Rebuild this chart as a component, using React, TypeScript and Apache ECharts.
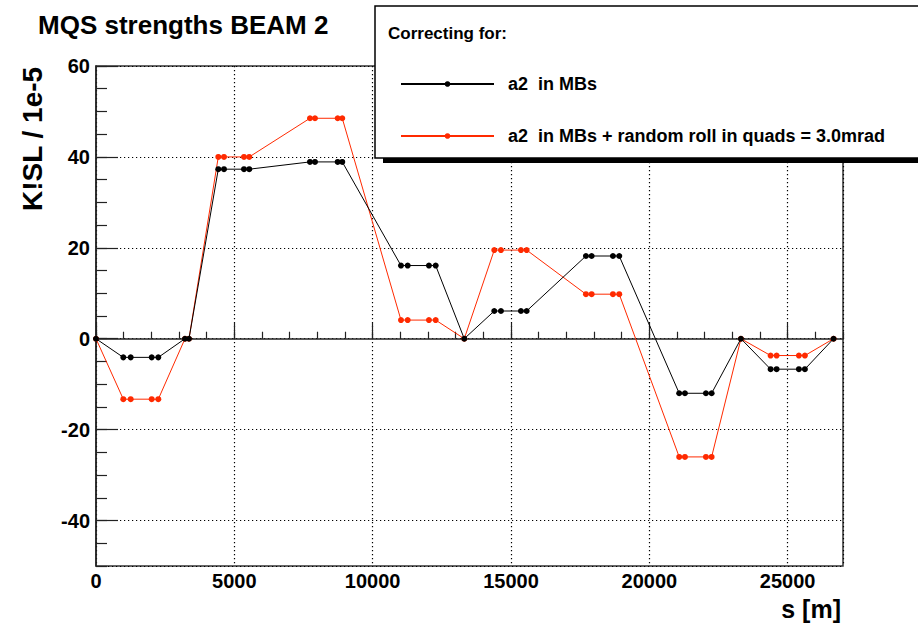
import React, { useEffect, useRef } from "react";
import * as echarts from "echarts";

const sPositions = [0, 987, 1254, 2013, 2252, 3216, 3361, 4420, 4626, 5349, 5540, 7734, 7915, 8735, 8901, 11023, 11265, 12035, 12277, 13311, 14395, 14637, 15360, 15566, 17709, 17915, 18684, 18912, 21080, 21286, 22045, 22251, 23311, 24383, 24600, 25406, 25623, 26659];
const mbValues = [0, -4.1, -4.1, -4.1, -4.1, 0, 0, 37.3, 37.3, 37.3, 37.3, 38.9, 38.9, 38.9, 38.9, 16.1, 16.1, 16.1, 16.1, 0, 6.1, 6.1, 6.1, 6.1, 18.2, 18.2, 18.2, 18.2, -12.0, -12.0, -12.0, -12.0, 0, -6.7, -6.7, -6.7, -6.7, 0];
const rollValues = [0, -13.3, -13.3, -13.3, -13.3, 0, 0, 40.0, 40.0, 40.0, 40.0, 48.5, 48.5, 48.5, 48.5, 4.1, 4.1, 4.1, 4.1, 0, 19.5, 19.5, 19.5, 19.5, 9.8, 9.8, 9.8, 9.8, -26.0, -26.0, -26.0, -26.0, 0, -3.7, -3.7, -3.7, -3.7, 0];
const seriesNames = ["a2  in MBs", "a2  in MBs + random roll in quads = 3.0mrad"];
const seriesColors = ["#000000", "#ff2a00"];

const FONT = "Liberation Sans";

export default function App() {
  const ref = useRef<HTMLDivElement>(null);
  useEffect(() => {
    if (!ref.current) return;
    const chart = echarts.init(ref.current, null, { renderer: "svg" });
    const toPairs = (vals: number[]) => sPositions.map((s, i) => [s, vals[i]]);
    const dotted = { color: "#000", width: 1.2, type: [1.2, 2.8] as any };
    chart.setOption({
      animation: false,
      backgroundColor: "#fff",
      title: {
        text: "MQS strengths BEAM 2",
        left: 33,
        top: 7,
        textStyle: { fontFamily: FONT, fontWeight: "bold", fontSize: 26, color: "#000" },
      },
      grid: {
        left: 96,
        right: 75,
        top: 66,
        bottom: 58,
        show: true,
        borderColor: "#333",
        borderWidth: 1.5,
        backgroundColor: "transparent",
      },
      legend: {
        data: seriesNames,
        orient: "vertical",
        left: 395,
        top: 69,
        itemWidth: 93,
        itemHeight: 7,
        itemGap: 32,
        z: 110,
        selectedMode: false,
        textStyle: {
          fontFamily: FONT,
          fontWeight: "bold",
          fontSize: 18,
          color: "#000",
          lineHeight: 20,
          padding: [0, 0, 0, 9],
        },
      },
      xAxis: [
        {
          type: "value",
          min: 0,
          max: 27000,
          interval: 5000,
          position: "bottom",
          axisLine: { show: true, lineStyle: { color: "#222", width: 1.5 } },
          axisTick: { show: true, inside: true, length: 16, lineStyle: { color: "#222", width: 1.2 } },
          axisLabel: {
            showMaxLabel: false,
            margin: 5,
            formatter: (v: number) => String(v),
            fontFamily: FONT,
            fontWeight: "bold",
            fontSize: 20,
            color: "#000",
          },
          splitLine: { show: true, lineStyle: dotted },
        },
        {
          type: "value",
          min: 0,
          max: 27000,
          interval: 1000,
          position: "bottom",
          axisLine: { show: false },
          axisTick: { show: true, inside: true, length: 7, lineStyle: { color: "#222", width: 1.2 } },
          axisLabel: { show: false },
          splitLine: { show: false },
        },
      ],
      yAxis: [
        {
          type: "value",
          min: -50,
          max: 60,
          splitNumber: 5,
          position: "left",
          axisLine: { show: true, lineStyle: { color: "#222", width: 1.5 } },
          axisTick: { show: true, inside: true, length: 22, lineStyle: { color: "#222", width: 1.2 } },
          axisLabel: {
            showMinLabel: false,
            margin: 6,
            fontFamily: FONT,
            fontWeight: "bold",
            fontSize: 20,
            color: "#000",
          },
          splitLine: { show: true, lineStyle: dotted },
        },
        {
          type: "value",
          min: -50,
          max: 60,
          interval: 5,
          position: "left",
          axisLine: { show: false },
          axisTick: { show: true, inside: true, length: 11, lineStyle: { color: "#222", width: 1.2 } },
          axisLabel: { show: false },
          splitLine: { show: false },
        },
      ],
      series: [
        {
          name: seriesNames[0],
          type: "line",
          xAxisIndex: 0,
          yAxisIndex: 0,
          data: toPairs(mbValues),
          symbol: "circle",
          symbolSize: 6,
          color: seriesColors[0],
          lineStyle: { width: 1, color: seriesColors[0] },
          itemStyle: { color: seriesColors[0] },
          z: 3,
        },
        {
          name: seriesNames[1],
          type: "line",
          xAxisIndex: 0,
          yAxisIndex: 0,
          data: toPairs(rollValues),
          symbol: "circle",
          symbolSize: 6,
          color: seriesColors[1],
          lineStyle: { width: 1, color: seriesColors[1] },
          itemStyle: { color: seriesColors[1] },
          z: 2,
        },
      ],
      graphic: [
        {
          type: "rect",
          z: 100,
          shape: { x: 383, y: 158, width: 560, height: 5 },
          style: { fill: "#000" },
        },
        {
          type: "rect",
          z: 101,
          shape: { x: 375, y: 6, width: 570, height: 152 },
          style: { fill: "#fff", stroke: "#000", lineWidth: 1.5 },
        },
        {
          type: "text",
          z: 102,
          x: 388,
          y: 33,
          style: {
            text: "Correcting for:",
            fontFamily: FONT,
            fontWeight: "bold",
            fontSize: 17,
            fill: "#000",
            verticalAlign: "middle",
          },
        },
        {
          type: "text",
          z: 102,
          x: 32,
          y: 139,
          rotation: Math.PI / 2,
          style: {
            text: "K!SL / 1e-5",
            fontFamily: FONT,
            fontWeight: "bold",
            fontSize: 28,
            fill: "#000",
            align: "center",
            verticalAlign: "middle",
          },
        },
        {
          type: "text",
          z: 102,
          x: 841,
          y: 609,
          style: {
            text: "s [m]",
            fontFamily: FONT,
            fontWeight: "bold",
            fontSize: 25,
            fill: "#000",
            align: "right",
            verticalAlign: "middle",
          },
        },
      ],
    });
    return () => chart.dispose();
  }, []);
  return (
    <div
      ref={ref}
      style={{ position: "fixed", left: 0, top: 0, width: 918, height: 624, background: "#fff" }}
    />
  );
}
